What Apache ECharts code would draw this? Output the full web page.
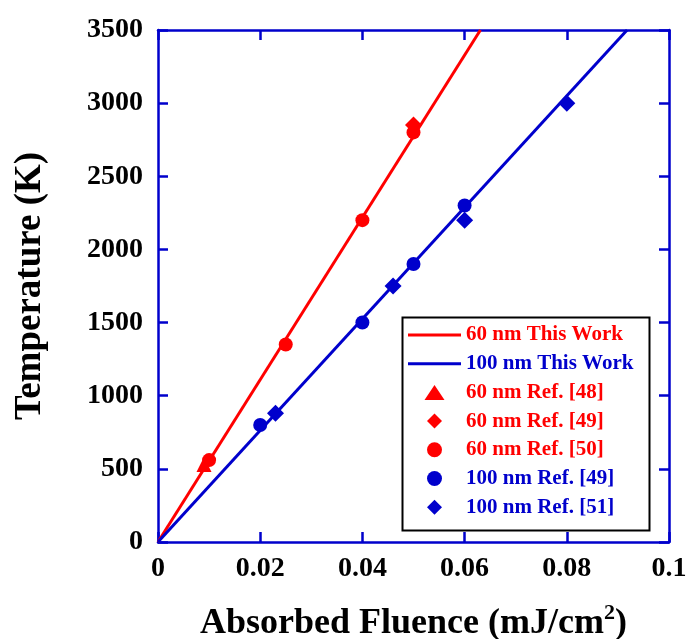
<!DOCTYPE html>
<html>
<head>
<meta charset="utf-8">
<script src="https://cdn.jsdelivr.net/npm/echarts@6/dist/echarts.min.js"></script>
<style>html,body{margin:0;padding:0;background:#fff;}#c{width:689px;height:639px;}</style>
</head>
<body>
<div id="c"></div>
<script>
// Fit lines (fluence mJ/cm^2, temperature K)
var line60 = [[0, 0], [0.0631, 3500]];
var line100 = [[0, 0], [0.0918, 3500]];
// Reference points
var ref48_60 = [[0.009, 530]];
var ref49_60 = [[0.05, 2850]];
var ref50_60 = [[0.01, 560], [0.025, 1350], [0.04, 2200], [0.05, 2800]];
var ref49_100 = [[0.02, 800], [0.04, 1500], [0.05, 1900], [0.06, 2300]];
var ref51_100 = [[0.023, 880], [0.046, 1750], [0.06, 2200], [0.08, 3000]];
var xTicks = {min: 0, max: 0.1, interval: 0.02};
var yTicks = {min: 0, max: 3500, interval: 500};

var RED = '#ff0000', BLUE = '#0000cc';
var FONT = 'Liberation Serif';
var LINE_ICON = 'path://M0,0L53,0L53,3L0,3Z';
var TRI_ICON = 'path://M8,0L16,12L0,12Z';
var DIA_ICON = 'path://M50,0L100,50L50,100L0,50Z';
var CIR_ICON = 'circle';
var chart = echarts.init(document.getElementById('c'), null, {renderer: 'canvas'});
function axisCommon() {
  return {
    axisLine: {show: true, onZero: false, lineStyle: {color: BLUE, width: 2.5}},
    axisTick: {show: true, inside: true, length: 10, lineStyle: {color: BLUE, width: 2.5}},
    splitLine: {show: false}
  };
}
chart.setOption({
  animation: false,
  backgroundColor: '#fff',
  grid: {left: 158, top: 30, right: 20, bottom: 97, containLabel: false, outerBoundsMode: 'none'},
  xAxis: [
    Object.assign({
      type: 'value', min: xTicks.min, max: xTicks.max, interval: xTicks.interval,
      position: 'bottom',
      axisLabel: {color: '#000', fontFamily: FONT, fontWeight: 'bold', fontSize: 28, margin: 13,
        formatter: function (v) { return String(+v.toFixed(2)); }},
      name: '{t|Absorbed Fluence (mJ/cm}{s|2}{t|)}',
      nameLocation: 'middle', nameGap: 60,
      nameTextStyle: {rich: {
        t: {fontFamily: FONT, fontWeight: 'bold', fontSize: 36, color: '#000', verticalAlign: 'bottom'},
        s: {fontFamily: FONT, fontWeight: 'bold', fontSize: 22, color: '#000', verticalAlign: 'top', padding: [0,0,18,0]}
      }}
    }, axisCommon()),
    Object.assign({
      type: 'value', min: xTicks.min, max: xTicks.max, interval: xTicks.interval,
      position: 'top', axisLabel: {show: false}
    }, axisCommon())
  ],
  yAxis: [
    Object.assign({
      type: 'value', min: yTicks.min, max: yTicks.max, interval: yTicks.interval,
      position: 'left',
      axisLabel: {color: '#000', fontFamily: FONT, fontWeight: 'bold', fontSize: 28, margin: 15,
        formatter: function (v) { return String(v); }},
      name: 'Temperature (K)', nameLocation: 'middle', nameGap: 109, nameRotate: 90,
      nameTextStyle: {fontFamily: FONT, fontWeight: 'bold', fontSize: 37, color: '#000'}
    }, axisCommon()),
    Object.assign({
      type: 'value', min: yTicks.min, max: yTicks.max, interval: yTicks.interval,
      position: 'right', axisLabel: {show: false}
    }, axisCommon())
  ],
  legend: {
    orient: 'vertical', left: 408, top: 324,
    itemWidth: 53, itemHeight: 15, itemGap: 6.7, padding: 0,
    textStyle: {fontFamily: FONT, fontWeight: 'bold', fontSize: 21, lineHeight: 22},
    data: [
      {name: '60 nm This Work', icon: LINE_ICON, textStyle: {color: RED}},
      {name: '100 nm This Work', icon: LINE_ICON, textStyle: {color: BLUE}},
      {name: '60 nm Ref. [48]', icon: TRI_ICON, textStyle: {color: RED}},
      {name: '60 nm Ref. [49]', icon: DIA_ICON, textStyle: {color: RED}},
      {name: '60 nm Ref. [50]', icon: CIR_ICON, textStyle: {color: RED}},
      {name: '100 nm Ref. [49]', icon: CIR_ICON, textStyle: {color: BLUE}},
      {name: '100 nm Ref. [51]', icon: DIA_ICON, textStyle: {color: BLUE}}
    ]
  },
  graphic: [{
    type: 'rect', left: 400, top: 315, z: 100,
    shape: {width: 247, height: 213},
    style: {fill: 'none', stroke: '#000', lineWidth: 2}
  }],
  series: [
    {name: '60 nm This Work', type: 'line', data: line60, symbol: 'none', showSymbol: false,
      lineStyle: {color: RED, width: 3}, itemStyle: {color: RED}},
    {name: '100 nm This Work', type: 'line', data: line100, symbol: 'none', showSymbol: false,
      lineStyle: {color: BLUE, width: 3}, itemStyle: {color: BLUE}},
    {name: '60 nm Ref. [48]', type: 'scatter', data: ref48_60, symbol: 'triangle', symbolSize: 15, itemStyle: {color: RED, opacity: 1}},
    {name: '60 nm Ref. [49]', type: 'scatter', data: ref49_60, symbol: 'diamond', symbolSize: 17, itemStyle: {color: RED, opacity: 1}},
    {name: '60 nm Ref. [50]', type: 'scatter', data: ref50_60, symbol: 'circle', symbolSize: 14, itemStyle: {color: RED, opacity: 1}},
    {name: '100 nm Ref. [49]', type: 'scatter', data: ref49_100, symbol: 'circle', symbolSize: 14, itemStyle: {color: BLUE, opacity: 1}},
    {name: '100 nm Ref. [51]', type: 'scatter', data: ref51_100, symbol: 'diamond', symbolSize: 17, itemStyle: {color: BLUE, opacity: 1}}
  ]
});
</script>
</body>
</html>
